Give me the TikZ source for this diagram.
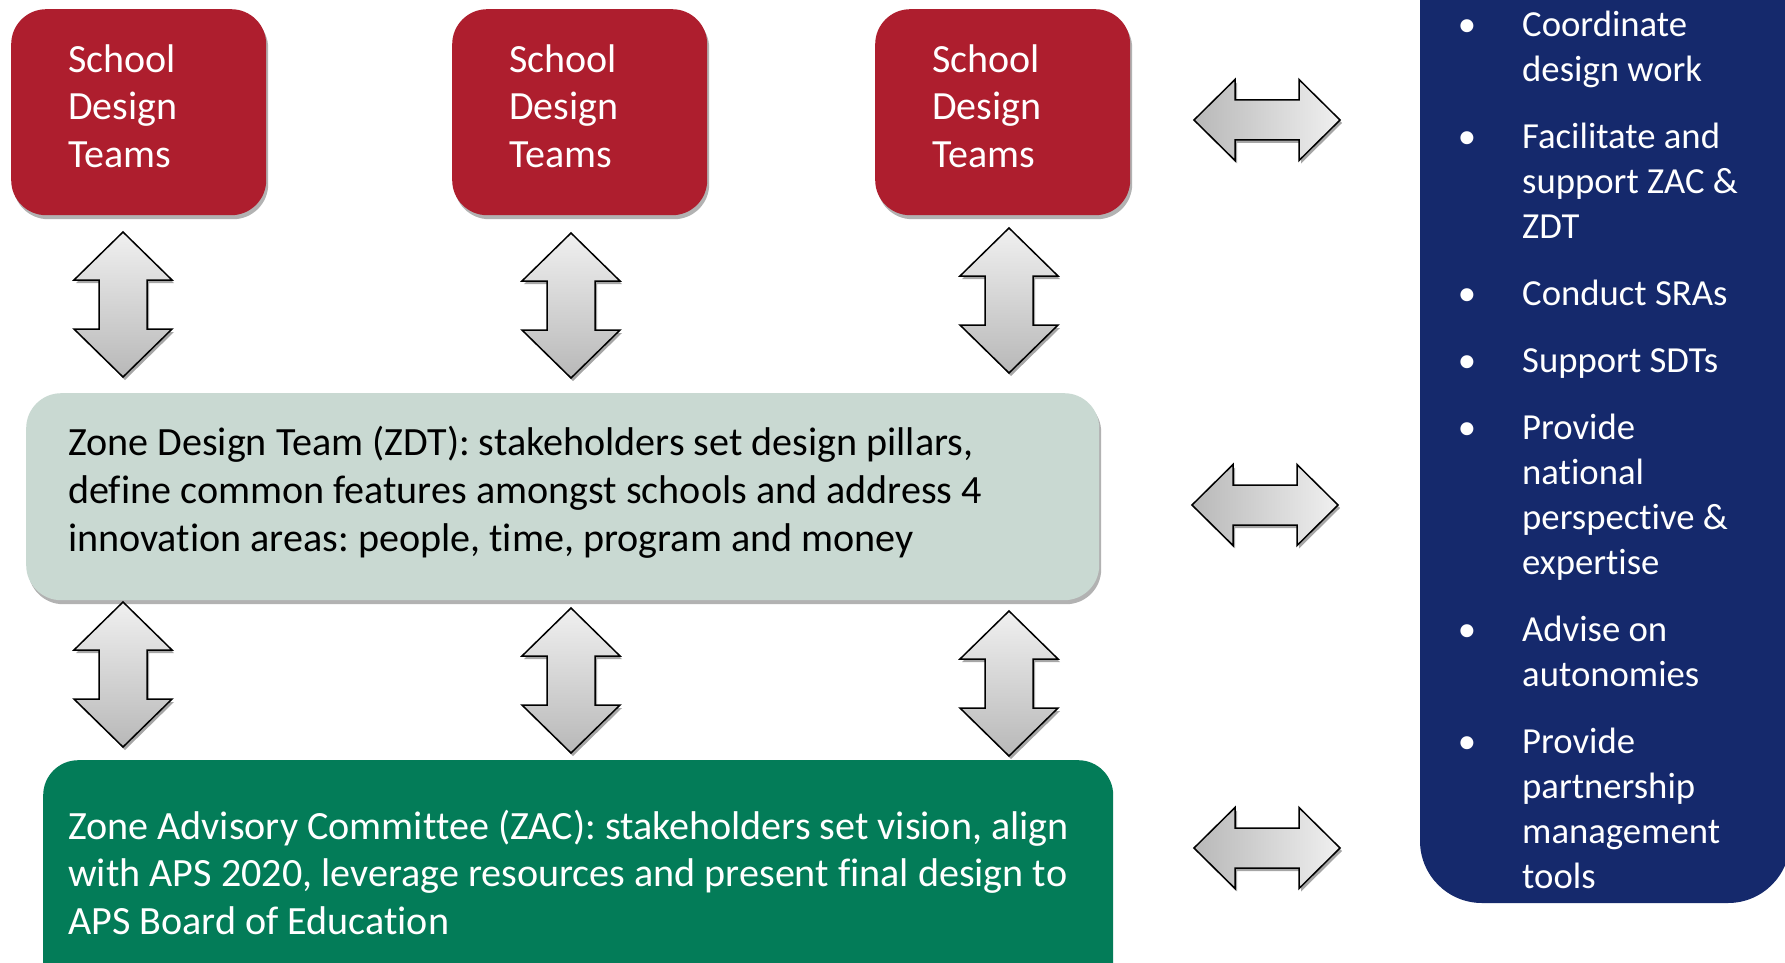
\documentclass[tikz,border=0pt]{standalone}
\usepackage{fontspec}
\setmainfont{Carlito}[Ligatures=NoCommon]
\frenchspacing
\usetikzlibrary{shadows,calc}
\definecolor{sdtred}{RGB}{174,30,46}
\definecolor{zdtgreen}{RGB}{201,217,210}
\definecolor{zacgreen}{RGB}{3,124,88}
\definecolor{navy}{RGB}{21,41,108}
\definecolor{arrowlight}{RGB}{240,240,240}
\definecolor{arrowdark}{RGB}{184,184,184}
\tikzset{
  boxshadow/.style={drop shadow={shadow xshift=2pt,shadow yshift=-4pt,opacity=0.3,fill=black}},
  sdtbox/.style={fill=sdtred,rounded corners=35pt,minimum width=255pt,minimum height=206pt,anchor=north west,inner sep=0pt,boxshadow},
  sdttext/.style={text=white,align=left,anchor=base west,inner sep=0pt,font=\fontsize{40}{47.5}\selectfont},
  zdtbox/.style={fill=zdtgreen,rounded corners=35pt,minimum width=1073pt,minimum height=207pt,anchor=north west,inner sep=0pt,boxshadow},
  zdttext/.style={text=black,align=left,anchor=base west,inner sep=0pt,font=\fontsize{40.1}{48}\selectfont},
  zacbox/.style={fill=zacgreen,rounded corners=35pt,minimum width=1070pt,minimum height=260pt,anchor=north west,inner sep=0pt},
  zactext/.style={text=white,align=left,anchor=base west,inner sep=0pt,font=\fontsize{40.1}{47.5}\selectfont},
  bluetext/.style={text=white,align=left,anchor=base west,inner sep=0pt,font=\fontsize{36.7}{45}\selectfont},
  bulletmark/.style={text=white,anchor=base,inner sep=0pt,font=\fontsize{36.7}{45}\selectfont},
  blockarrow/.style={draw=black,line width=1.5pt,line join=miter,
    drop shadow={shadow xshift=2pt,shadow yshift=-3pt,opacity=0.35,fill=black}},
  pics/vdarrow/.style={code={
    \path[blockarrow,top color=arrowlight,bottom color=arrowdark]
      (0,0) -- (49,48) -- (24,48) -- (24,97) -- (49,97) -- (0,145)
      -- (-49,97) -- (-24,97) -- (-24,48) -- (-49,48) -- cycle;}},
  pics/hdarrow/.style={code={
    \path[blockarrow,left color=arrowdark,right color=arrowlight]
      (0,0) -- (41,-40.5) -- (41,-20) -- (105,-20) -- (105,-40.5) -- (146,0)
      -- (105,40.5) -- (105,20) -- (41,20) -- (41,40.5) -- cycle;}},
}
\begin{document}
\begin{tikzpicture}[x=1pt,y=-1pt]
\useasboundingbox (0,0) rectangle (1785,963);
\clip (0,0) rectangle (1785,963);
\fill[white] (0,0) rectangle (1785,963);

% School design teams (text anchored at the baseline of its last line)
\node[sdtbox] (sdt1) at (11,9) {};
\node[sdtbox] (sdt2) at (452,9) {};
\node[sdtbox] (sdt3) at (875,9) {};
\node[sdttext] (sdt1t) at (68,167) {School\\Design\\Teams};
\node[sdttext] (sdt2t) at (509,167) {School\\Design\\Teams};
\node[sdttext] (sdt3t) at (932,167) {School\\Design\\Teams};

% Zone design team
\node[zdtbox] (zdt) at (26,393) {};
\node[zdttext] (zdtt) at (68,551) {Zone Design Team (ZDT): stakeholders set design pillars,\\define common features amongst schools and address 4\\innovation areas: people, time, program and money};

% Zone advisory committee
\node[zacbox] (zac) at (43,760) {};
\node[zactext] (zact) at (68,934) {Zone Advisory Committee (ZAC): stakeholders set vision, align\\with APS 2020, leverage resources and present final design to\\APS Board of Education};

% vertical block arrows
\pic at (123,232) {vdarrow};
\pic at (571,233) {vdarrow};
\pic at (1009,228) {vdarrow};
\pic at (123,602) {vdarrow};
\pic at (571,608) {vdarrow};
\pic at (1009,611) {vdarrow};

% horizontal block arrows
\pic at (1194,120) {hdarrow};
\pic at (1192,505) {hdarrow};
\pic at (1194,848) {hdarrow};

% support panel
\fill[navy,rounded corners=62pt] (1420,-100) -- (1420,903) -- (1790,903) -- (1790,-100) -- cycle;
\node[bulletmark] (d1) at (1467,37) {\textbullet};
\node[bluetext] (l1) at (1522,82) {Coordinate\\design work};
\node[bulletmark] (d2) at (1467,148) {\textbullet};
\node[bluetext] (l2) at (1522,238) {Facilitate and\\support ZAC \&\\ZDT};
\node[bulletmark] (d3) at (1467,305) {\textbullet};
\node[bluetext] (l3) at (1522,305) {Conduct SRAs};
\node[bulletmark] (d4) at (1467,372) {\textbullet};
\node[bluetext] (l4) at (1522,372) {Support SDTs};
\node[bulletmark] (d5) at (1467,439) {\textbullet};
\node[bluetext] (l5) at (1522,574) {Provide\\national\\perspective \&\\expertise};
\node[bulletmark] (d6) at (1467,641) {\textbullet};
\node[bluetext] (l6) at (1522,686) {Advise on\\autonomies};
\node[bulletmark] (d7) at (1467,753) {\textbullet};
\node[bluetext] (l7) at (1522,888) {Provide\\partnership\\management\\tools};
\end{tikzpicture}
\end{document}
